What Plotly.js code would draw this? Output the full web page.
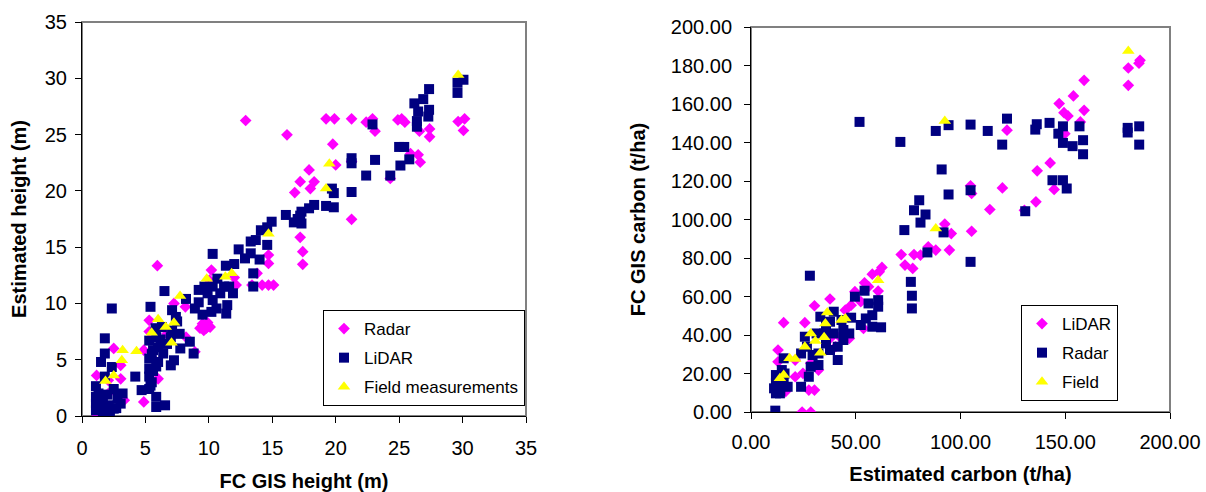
<!DOCTYPE html>
<html>
<head>
<meta charset="utf-8">
<script src="https://cdn.plot.ly/plotly-3.0.1.min.js"></script>
<style>html,body{margin:0;padding:0;background:#fff;}#chart{width:1206px;height:492px;}</style>
</head>
<body>
<div id="chart"></div>
<script>
// ---------- Left chart: height (m) ----------
var heightTicks = [0, 5, 10, 15, 20, 25, 30, 35];

var heightRadarX = [29.65, 30.16, 30.07, 27.4, 27.4, 26.6, 26.66, 26.5, 25.9, 25.2, 25.45, 24.9, 22.9, 23.1, 22.4, 21.25, 19.9, 19.24, 12.9, 16.16, 19.77, 20.0, 21.25, 17.9, 17.2, 16.77, 18.3, 18.0, 24.3, 21.25, 17.2, 17.4, 17.4, 14.7, 14.7, 14.7, 15.1, 14.2, 13.4, 13.8, 5.94, 10.2, 10.05, 12.0, 12.15, 8.15, 9.5, 9.8, 9.3, 10.0, 8.2, 7.25, 8.9, 5.3, 5.3, 4.87, 2.5, 3.05, 3.05, 1.15, 4.87, 6.0, 1.23, 2.07, 2.07, 3.33, 5.85, 6.7, 9.6, 9.9, 10.1];
var heightRadarY = [26.16, 26.4, 25.36, 25.5, 24.8, 25.3, 22.55, 23.2, 23.3, 26.4, 26.1, 26.3, 26.4, 25.3, 26.1, 26.4, 26.4, 26.4, 26.25, 24.98, 24.15, 22.3, 17.47, 21.86, 20.82, 19.85, 20.8, 20.2, 21.1, 22.6, 15.87, 14.6, 13.47, 14.3, 13.55, 11.63, 11.63, 11.63, 11.63, 12.67, 13.35, 12.96, 12.07, 12.3, 11.63, 9.7, 8.2, 7.8, 7.8, 8.0, 7.0, 10.0, 5.7, 8.5, 7.5, 5.85, 6.0, 4.5, 3.3, 3.6, 1.25, 3.3, 0.06, 2.0, 3.17, 1.4, 4.8, 7.3, 7.6, 8.3, 7.9];

var heightLidarX = [30.07, 29.6, 29.6, 27.36, 26.9, 26.2, 26.5, 27.36, 27.3, 26.4, 26.4, 22.9, 25.0, 25.4, 25.8, 25.1, 23.1, 21.25, 21.25, 22.4, 24.3, 21.25, 19.7, 19.85, 19.24, 19.85, 18.3, 17.9, 17.3, 17.2, 16.7, 16.07, 17.3, 17.0, 14.95, 14.6, 14.1, 14.6, 13.7, 13.3, 13.3, 12.35, 12.85, 14.0, 10.3, 13.5, 13.5, 12.0, 11.34, 10.67, 11.9, 11.45, 11.37, 9.2, 9.2, 9.5, 9.9, 10.3, 10.6, 10.2, 10.9, 11.2, 9.65, 8.9, 10.3, 11.6, 8.2, 6.5, 8.5, 8.8, 7.75, 7.1, 7.5, 7.1, 5.4, 5.3, 5.6, 5.3, 5.3, 5.3, 5.85, 6.0, 6.4, 6.7, 7.25, 7.0, 7.7, 7.4, 6.3, 7.0, 5.85, 5.4, 5.3, 5.85, 5.85, 6.55, 4.7, 4.2, 2.35, 1.8, 1.8, 1.5, 2.35, 1.1, 1.8, 2.5, 3.2, 3.05, 1.1, 1.65, 2.1, 1.1, 2.5, 1.65, 2.8, 1.1, 2.2, 5.5, 5.6, 5.5, 6.0, 6.2, 5.8, 1.4, 2.0, 2.7, 1.3];
var heightLidarY = [29.87, 29.6, 28.7, 29.04, 28.15, 27.77, 27.05, 27.2, 26.6, 26.2, 25.7, 25.9, 23.9, 23.9, 22.8, 22.25, 22.75, 22.9, 22.45, 21.36, 21.36, 19.9, 20.2, 19.8, 18.66, 18.54, 18.75, 18.45, 18.15, 17.8, 17.2, 17.86, 17.1, 17.5, 17.26, 16.76, 16.5, 15.2, 15.63, 15.5, 14.45, 14.8, 14.0, 13.9, 14.4, 12.67, 11.5, 13.5, 13.35, 12.2, 10.9, 9.85, 9.1, 11.2, 10.1, 9.0, 10.9, 10.3, 9.55, 9.25, 10.9, 11.5, 11.5, 9.55, 11.5, 11.5, 10.4, 11.1, 6.6, 5.55, 6.0, 9.4, 8.4, 7.6, 9.7, 6.7, 5.85, 5.1, 4.2, 3.5, 4.4, 6.1, 5.55, 6.4, 4.95, 4.5, 7.3, 8.8, 7.9, 7.0, 7.0, 2.7, 2.4, 1.7, 0.8, 0.95, 2.3, 3.5, 9.55, 6.9, 5.55, 4.8, 4.35, 2.65, 3.5, 2.4, 2.0, 1.1, 1.7, 1.4, 0.95, 0.5, 0.65, 0.35, 1.55, 1.1, 0.2, 3.0, 4.0, 5.5, 4.8, 6.8, 7.8, 0.9, 1.9, 0.7, 2.0];

var heightFieldX = [29.65, 19.5, 19.24, 14.7, 11.8, 11.3, 9.83, 7.73, 6.0, 7.25, 6.6, 5.49, 7.06, 4.3, 3.2, 3.14, 2.5, 1.85];
var heightFieldY = [30.3, 22.4, 20.2, 16.2, 12.67, 12.37, 12.2, 10.65, 8.6, 8.28, 7.9, 7.4, 6.5, 5.75, 5.85, 4.95, 3.6, 3.1];

// ---------- Right chart: carbon (t/ha) ----------
var carbonTicks = [0, 50, 100, 150, 200];
var carbonYTicks = [0, 20, 40, 60, 80, 100, 120, 140, 160, 180, 200];

var carbonLidarX = [185.7, 185.2, 180.1, 180.1, 159.0, 159.0, 153.9, 147.1, 149.4, 151.3, 157.2, 149.8, 122.2, 142.8, 136.6, 144.7, 136.0, 130.5, 120.0, 114.0, 104.8, 105.3, 105.3, 92.5, 95.6, 94.7, 88.2, 84.6, 80.9, 77.8, 71.7, 73.5, 77.2, 62.5, 61.2, 57.9, 60.7, 54.2, 56.1, 49.6, 47.8, 52.4, 37.7, 30.3, 25.7, 15.6, 12.9, 12.9, 16.5, 27.6, 30.3, 24.4, 28.5, 21.1, 32.2, 40.4, 42.3, 46.9, 53.7, 45.0, 37.7, 28.5, 21.1, 24.8];
var carbonLidarY = [182.7, 181.2, 178.7, 169.7, 172.3, 156.7, 164.2, 160.2, 155.5, 153.8, 150.7, 144.6, 146.4, 129.4, 125.3, 115.6, 109.2, 104.8, 116.4, 105.2, 117.5, 113.5, 93.9, 97.6, 92.7, 84.1, 84.1, 85.8, 81.5, 81.8, 81.8, 76.3, 74.6, 75.1, 72.8, 71.6, 62.8, 67.1, 65.1, 62.5, 55.5, 57.3, 58.7, 55.2, 46.4, 46.4, 32.2, 26.1, 10.6, 11.4, 11.4, 0, 0, 18.3, 21.8, 33.9, 39.1, 38.2, 43.4, 52.9, 38.2, 25.3, 27.0, 20.1];

var carbonRadarX = [51.8, 71.3, 88.2, 94.3, 104.8, 113.0, 122.2, 119.9, 135.7, 136.4, 142.5, 148.9, 146.7, 148.9, 153.5, 156.8, 158.5, 158.5, 179.8, 179.8, 185.3, 185.3, 91.0, 94.3, 104.8, 143.9, 148.9, 150.7, 130.9, 80.3, 77.8, 83.3, 80.9, 73.2, 91.9, 84.2, 104.8, 76.3, 76.8, 76.8, 28.1, 49.6, 54.2, 60.7, 60.7, 56.1, 47.8, 54.8, 52.4, 57.9, 62.1, 57.9, 39.5, 33.1, 37.7, 44.1, 44.1, 39.5, 35.8, 31.3, 25.7, 26.7, 29.4, 41.4, 37.7, 32.2, 28.5, 27.6, 23.9, 17.5, 15.6, 14.7, 11.9, 11.9, 11.9, 13.8, 11.0, 15.6, 11.6, 35.8, 43.2, 41.4, 32.2, 46.9, 23.9, 34.9, 13.0, 14.0, 16.0];
var carbonRadarY = [150.7, 140.3, 146.0, 149.0, 149.3, 146.0, 152.4, 138.9, 146.7, 149.5, 150.2, 148.4, 144.6, 139.8, 138.1, 148.4, 141.2, 133.9, 147.6, 145.2, 148.4, 138.9, 126.0, 113.0, 115.2, 120.4, 120.4, 116.1, 104.3, 110.0, 104.8, 102.6, 98.4, 94.5, 93.3, 82.9, 78.0, 67.6, 60.4, 53.8, 70.8, 59.9, 63.0, 58.1, 54.7, 56.4, 49.0, 48.6, 45.2, 44.3, 44.0, 50.3, 52.1, 49.5, 46.9, 42.6, 37.4, 40.8, 35.6, 40.8, 39.1, 33.9, 29.6, 27.0, 32.2, 24.4, 23.5, 18.3, 13.1, 13.1, 27.9, 21.8, 19.2, 14.9, 9.7, 9.7, 12.3, 16.6, 0.7, 45.2, 47.8, 33.9, 30.4, 40.8, 30.4, 40.8, 15.0, 11.0, 20.0];

var carbonFieldX = [180.1, 92.5, 88.2, 60.7, 45.0, 43.2, 36.4, 35.5, 34.9, 28.5, 30.7, 33.1, 25.7, 18.4, 21.1, 15.6, 13.8];
var carbonFieldY = [187.5, 151.2, 95.3, 68.5, 48.6, 47.8, 51.7, 46.0, 38.8, 40.8, 36.9, 30.8, 33.9, 27.9, 27.5, 19.2, 17.5];

// ---------- styling ----------
var MAGENTA = '#FF00FF', NAVY = '#000080', YELLOW = '#FFFF00';
var FONT = 'Arial, "Liberation Sans", sans-serif';
var W = 1206, H = 492;

function px2fx(p) { return p / W; }
function py2fy(p) { return (H - p) / H; }

function diamond(x, y, name, xa, ya, lg, grp) {
  return {x: x, y: y, name: name, type: 'scatter', mode: 'markers', xaxis: xa, yaxis: ya, legend: lg, legendgroup: grp,
    marker: {symbol: 'diamond', color: MAGENTA, size: 9, line: {width: 0}}};
}
function square(x, y, name, xa, ya, lg, grp) {
  return {x: x, y: y, name: name, type: 'scatter', mode: 'markers', xaxis: xa, yaxis: ya, legend: lg, legendgroup: grp,
    marker: {symbol: 'square', color: NAVY, size: 10, line: {width: 0}}};
}
function tri(x, y, name, xa, ya, lg, grp) {
  return {x: x, y: y, name: name, type: 'scatter', mode: 'markers', xaxis: xa, yaxis: ya, legend: lg, legendgroup: grp,
    marker: {symbol: 'triangle-up', color: YELLOW, size: 11, line: {width: 0}}};
}

var traces = [
  diamond(heightRadarX, heightRadarY, 'Radar', 'x', 'y', 'legend', 'a1'),
  square(heightLidarX, heightLidarY, 'LiDAR', 'x', 'y', 'legend', 'a2'),
  tri(heightFieldX, heightFieldY, 'Field measurements', 'x', 'y', 'legend', 'a3'),
  diamond(carbonLidarX, carbonLidarY, 'LiDAR', 'x2', 'y2', 'legend2', 'b1'),
  square(carbonRadarX, carbonRadarY, 'Radar', 'x2', 'y2', 'legend2', 'b2'),
  tri(carbonFieldX, carbonFieldY, 'Field', 'x2', 'y2', 'legend2', 'b3')
];

// pixel geometry of the two plot areas
var L = {x0: 82, x1: 526, y0: 22, y1: 416};
var R = {x0: 751, x1: 1170, y0: 27, y1: 412};

function axisBase() {
  return {
    showgrid: false, zeroline: false, showline: true, linecolor: '#000', linewidth: 1,
    ticks: 'outside', ticklen: 6, tickcolor: '#000', tickwidth: 1,
    tickfont: {family: FONT, size: 20, color: '#000'},
    fixedrange: true
  };
}
var titleFont = {family: FONT, size: 20, color: '#000', weight: 'bold'};

var xaxis = Object.assign(axisBase(), {
  domain: [px2fx(L.x0), px2fx(L.x1)], range: [0, 35], tickvals: heightTicks,
  ticktext: heightTicks.map(String), anchor: 'y', ticklabelstandoff: 8,
  title: {text: 'FC GIS height (m)', font: titleFont, standoff: 26}
});
var yaxis = Object.assign(axisBase(), {
  domain: [py2fy(L.y1), py2fy(L.y0)], range: [0, 35], tickvals: heightTicks,
  ticktext: heightTicks.map(String), anchor: 'x', ticklabelstandoff: 4,
  title: {text: 'Estimated height (m)', font: titleFont, standoff: 12}
});
var xaxis2 = Object.assign(axisBase(), {
  domain: [px2fx(R.x0), px2fx(R.x1)], range: [0, 200], tickvals: carbonTicks,
  ticktext: carbonTicks.map(function (v) { return v.toFixed(2); }), anchor: 'y2', ticklabelstandoff: 6,
  title: {text: 'Estimated carbon (t/ha)', font: titleFont, standoff: 14}
});
var yaxis2 = Object.assign(axisBase(), {
  domain: [py2fy(R.y1), py2fy(R.y0)], range: [0, 200], tickvals: carbonYTicks,
  ticktext: carbonYTicks.map(function (v) { return v.toFixed(2); }), anchor: 'x2', ticklabelstandoff: 8,
  title: {text: 'FC GIS carbon (t/ha)', font: titleFont, standoff: 19}
});

var legendBase = {
  bgcolor: '#fff', bordercolor: '#000', borderwidth: 1,
  font: {family: FONT, size: 17, color: '#000'},
  xanchor: 'right', yanchor: 'bottom', itemclick: false, itemdoubleclick: false,
  traceorder: 'grouped', tracegroupgap: 4
};

var layout = {
  width: W, height: H,
  margin: {l: 0, r: 0, t: 0, b: 0},
  paper_bgcolor: '#fff', plot_bgcolor: '#fff',
  font: {family: FONT, color: '#000'},
  xaxis: xaxis, yaxis: yaxis, xaxis2: xaxis2, yaxis2: yaxis2,
  legend: Object.assign({}, legendBase, {x: px2fx(525), y: py2fy(406)}),
  legend2: Object.assign({}, legendBase, {x: px2fx(1118), y: py2fy(401)}),
  shapes: [
    {type: 'rect', xref: 'x domain', yref: 'y domain', x0: 0, x1: 1, y0: 0, y1: 1,
     line: {color: '#808080', width: 2}, layer: 'below'},
    {type: 'rect', xref: 'x2 domain', yref: 'y2 domain', x0: 0, x1: 1, y0: 0, y1: 1,
     line: {color: '#808080', width: 2}, layer: 'below'}
  ],
  showlegend: true
};

Plotly.newPlot('chart', traces, layout, {staticPlot: true, displayModeBar: false});
</script>
</body>
</html>
